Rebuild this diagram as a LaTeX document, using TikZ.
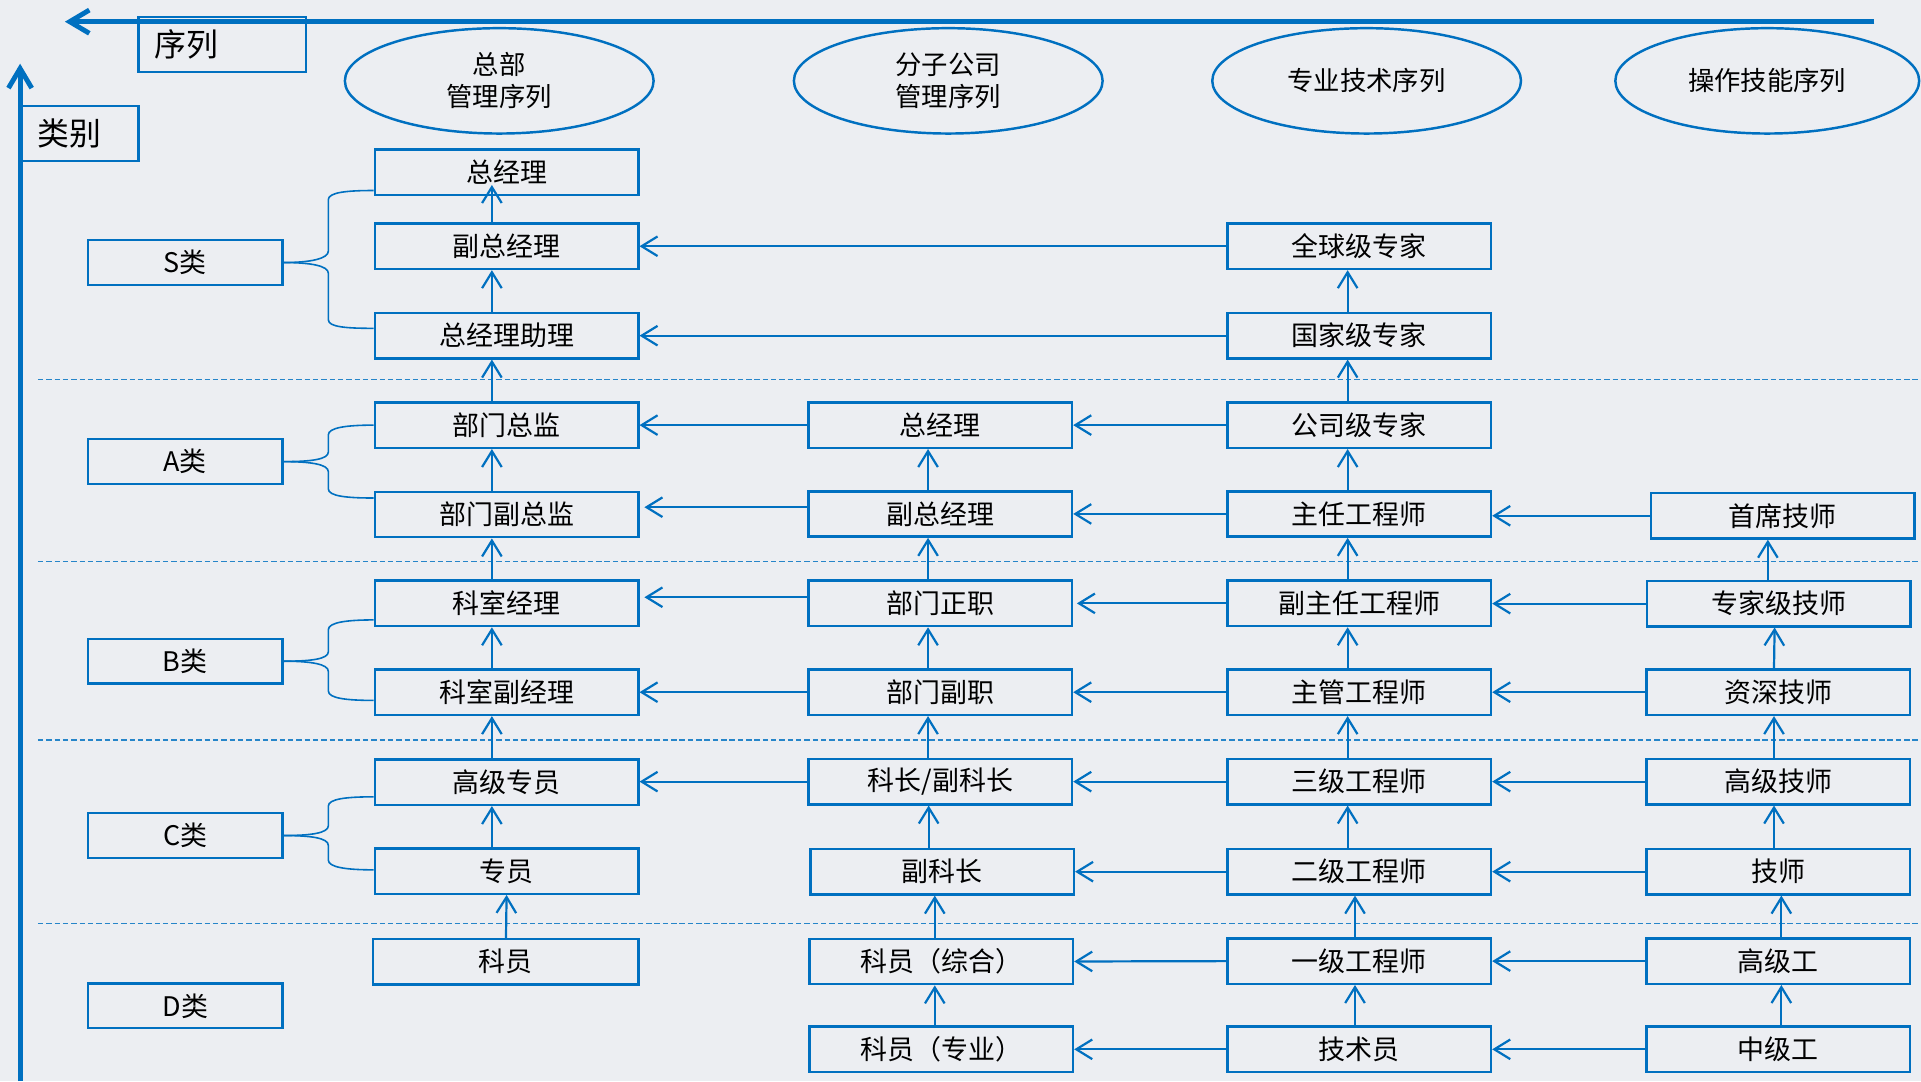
\documentclass[tikz,border=0pt]{standalone}
\usepackage{fontspec}
\setmainfont{Noto Sans CJK SC}
\usetikzlibrary{arrows.meta,shapes.geometric,calc}
\definecolor{bl}{RGB}{0,112,192}
\definecolor{bgc}{RGB}{236,238,242}
\definecolor{txt}{RGB}{0,0,0}
\begin{document}
\begin{tikzpicture}[x=1pt,y=-1pt,
 box/.style={draw=bl,line width=2pt,minimum width=215pt,minimum height=37pt,inner sep=0pt,text=txt,font=\fontsize{22}{25}\selectfont},
 cat/.style={draw=bl,line width=2pt,minimum width=159pt,minimum height=36.5pt,inner sep=0pt,text=txt,font=\fontsize{22}{25}\selectfont},
 ell/.style={draw=bl,line width=2pt,ellipse,minimum width=252pt,minimum height=86pt,inner sep=0pt,align=center,text=txt,font=\fontsize{21.5}{26}\selectfont},
 hdr/.style={draw=bl,line width=1.8pt,inner ysep=0pt,minimum height=45pt,align=left,text=txt,font=\fontsize{26}{30}\selectfont},
 arr/.style={draw=bl,line width=1.8pt,-{Straight Barb[length=13pt,width=16pt]}},
 brace/.style={draw=bl,line width=1.3pt},
 sep/.style={draw=bl!85!white,line width=1.2pt,dash pattern=on 4.4pt off 2.4pt},
 axis/.style={draw=bl,line width=4pt,-{Straight Barb[length=16pt,width=19pt]}}
]
\fill[bgc] (0,0) rectangle (1568,882.4);
\useasboundingbox (0,0) rectangle (1568,882.4);

% separators
\foreach \yy in {309.7,458.5,604,754}{\draw[sep] (31,\yy) -- (1568,\yy);}

% header boxes
\node[hdr,text width=111pt,inner xsep=13pt] (xulie) at (181.5,36.5) {序列};
\node[hdr,text width=69pt,inner xsep=13pt] (leibie) at (65.5,109) {类别};

% axes
\coordinate (axR) at (1530,17.7);
\coordinate (axL) at (53,17.7);
\coordinate (ayB) at (16.4,882.4);
\coordinate (ayT) at (16.4,52);
\draw[axis] (axR) -- (axL);
\draw[axis] (ayB) -- (ayT);

% ellipses
\node[ell] (e1) at (407.5,66) {总部\\管理序列};
\node[ell] (e2) at (774,66) {分子公司\\管理序列};
\node[ell] (e3) at (1115.5,66) {专业技术序列};
\node[ell,minimum width=248pt] (e4) at (1442.5,66) {操作技能序列};

% category boxes
\node[cat] (cS) at (151.2,214.3) {S类};
\node[cat] (cA) at (151.2,376.8) {A类};
\node[cat] (cB) at (151.2,539.7) {B类};
\node[cat] (cC) at (151.2,682) {C类};
\node[cat] (cD) at (151.2,821) {D类};

% column 1
\node[box] (h1) at (413.5,140.5) {总经理};
\node[box] (h2) at (413.5,201) {副总经理};
\node[box] (h3) at (413.5,274) {总经理助理};
\node[box] (h4) at (413.5,347) {部门总监};
\node[box] (h5) at (413.5,420) {部门副总监};
\node[box] (h6) at (413.5,492.5) {科室经理};
\node[box] (h7) at (413.5,565) {科室副经理};
\node[box] (h8) at (413.5,638.4) {高级专员};
\node[box] (h9) at (413.5,711) {专员};
\node[box,minimum width=216.5pt] (h10) at (412.75,785) {科员};

% column 2
\node[box] (b4) at (767.5,347) {总经理};
\node[box] (b5) at (767.5,419.5) {副总经理};
\node[box] (b6) at (767.5,492.5) {部门正职};
\node[box] (b7) at (767.5,565) {部门副职};
\node[box] (b8) at (767.5,638) {科长/副科长};
\node[box] (b9) at (769,711.5) {副科长};
\node[box] (b10) at (768.3,784.8) {科员（综合）};
\node[box] (b11) at (768.3,856.5) {科员（专业）};

% column 3
\node[box] (t2) at (1109.5,201) {全球级专家};
\node[box] (t3) at (1109.5,274) {国家级专家};
\node[box] (t4) at (1109.5,347) {公司级专家};
\node[box] (t5) at (1109.5,419.5) {主任工程师};
\node[box] (t6) at (1109.5,492.5) {副主任工程师};
\node[box] (t7) at (1109.5,565) {主管工程师};
\node[box] (t8) at (1109.5,638) {三级工程师};
\node[box] (t9) at (1109.5,711.5) {二级工程师};
\node[box] (t10) at (1109.5,784.5) {一级工程师};
\node[box] (t11) at (1109.5,856.5) {技术员};

% column 4
\node[box] (o5) at (1455,421) {首席技师};
\node[box] (o6) at (1452,492.7) {专家级技师};
\node[box] (o7) at (1451.5,565) {资深技师};
\node[box] (o8) at (1451.5,638) {高级技师};
\node[box] (o9) at (1451.5,711.5) {技师};
\node[box] (o10) at (1451.5,784.5) {高级工};
\node[box] (o11) at (1451.5,856.5) {中级工};

% braces
\draw[brace] (cS.east) .. controls +(22,0) and +(0,6) .. (268,205) -- (268,163) .. controls +(0,-6) and +(-22,0) .. ([yshift=-15pt]h1.west);
\draw[brace] (cS.east) .. controls +(22,0) and +(0,-6) .. (268,223) -- (268,261) .. controls +(0,6) and +(-22,0) .. ([yshift=6pt]h3.west);
\draw[brace] (cA.east) .. controls +(22,0) and +(0,6) .. (268,369) -- (268,355) .. controls +(0,-6) and +(-22,0) .. (h4.west);
\draw[brace] (cA.east) .. controls +(22,0) and +(0,-6) .. (268,385) -- (268,399) .. controls +(0,6) and +(-22,0) .. ([yshift=13.5pt]h5.west);
\draw[brace] (cB.east) .. controls +(22,0) and +(0,6) .. (268,532) -- (268,514) .. controls +(0,-6) and +(-22,0) .. ([yshift=-13.5pt]h6.west);
\draw[brace] (cB.east) .. controls +(22,0) and +(0,-6) .. (268,548) -- (268,564) .. controls +(0,6) and +(-22,0) .. ([yshift=-6.7pt]h7.west);
\draw[brace] (cC.east) .. controls +(22,0) and +(0,6) .. (268,674) -- (268,658) .. controls +(0,-6) and +(-22,0) .. ([yshift=-12pt]h8.west);
\draw[brace] (cC.east) .. controls +(22,0) and +(0,-6) .. (268,690) -- (268,702) .. controls +(0,6) and +(-22,0) .. ([yshift=1pt]h9.west);

% vertical arrows column 1
\draw[arr] ([xshift=-12pt]h2.north) -- ([xshift=-12pt,yshift=9pt]h1.south);
\foreach \a/\b in {h3/h2,h4/h3,h5/h4,h6/h5,h7/h6,h8/h7,h9/h8}{
  \draw[arr] ([xshift=-12pt]\a.north) -- ([xshift=-12pt]\b.south);}
\draw[arr] ([xshift=0.25pt]h10.north) -- (h9.south);

% vertical arrows column 2
\foreach \a/\b in {b5/b4,b6/b5,b7/b6,b8/b7}{
  \draw[arr] ([xshift=-10pt]\a.north) -- ([xshift=-10pt]\b.south);}
\draw[arr] ([xshift=-11pt]b9.north) -- ([xshift=-9.5pt]b8.south);
\draw[arr] ([xshift=-5.3pt]b10.north) -- ([xshift=-6pt]b9.south);
\draw[arr] ([xshift=-5.3pt]b11.north) -- ([xshift=-5.3pt]b10.south);

% vertical arrows column 3
\foreach \a/\b in {t3/t2,t4/t3,t5/t4,t6/t5,t7/t6,t8/t7,t9/t8}{
  \draw[arr] ([xshift=-9.5pt]\a.north) -- ([xshift=-9.5pt]\b.south);}
\foreach \a/\b in {t10/t9,t11/t10}{
  \draw[arr] ([xshift=-3.5pt]\a.north) -- ([xshift=-3.5pt]\b.south);}

% vertical arrows column 4
\draw[arr] ([xshift=-9pt]o6.north) -- ([xshift=-12pt]o5.south);
\foreach \a/\b in {o7/o6,o8/o7,o9/o8}{
  \draw[arr] ([xshift=-3.5pt]\a.north) -- ([xshift=-3.5pt]\b.south);}
\foreach \a/\b in {o10/o9,o11/o10}{
  \draw[arr] ([xshift=2.5pt]\a.north) -- ([xshift=2.5pt]\b.south);}

% horizontal arrows
\draw[arr] (t2.west) -- (h2.east);
\draw[arr] (t3.west) -- (h3.east);
\draw[arr] (t4.west) -- (b4.east);
\draw[arr] (b4.west) -- (h4.east);
\draw[arr] (t5.west) -- (b5.east);
\draw[arr] ([yshift=5.5pt]b5.west) -- ([xshift=4pt,yshift=6pt]h5.east);
\draw[arr] (t6.west) -- ([xshift=3pt]b6.east);
\draw[arr] ([yshift=5pt]b6.west) -- ([xshift=4pt,yshift=5pt]h6.east);
\draw[arr] (t7.west) -- (b7.east);
\draw[arr] (b7.west) -- (h7.east);
\draw[arr] (t8.west) -- (b8.east);
\draw[arr] (b8.west) -- ([yshift=0.4pt]h8.east);
\draw[arr] (t9.west) -- (b9.east);
\draw[arr] (t10.west) -- (b10.east);
\draw[arr] (t11.west) -- (b11.east);
\draw[arr] (o5.west) -- (o5.west -| t5.east);
\draw[arr] (o6.west) -- (o6.west -| t6.east);
\draw[arr] (o7.west) -- (t7.east);
\draw[arr] (o8.west) -- (t8.east);
\draw[arr] (o9.west) -- (t9.east);
\draw[arr] (o10.west) -- (t10.east);
\draw[arr] (o11.west) -- (t11.east);
\end{tikzpicture}
\end{document}
